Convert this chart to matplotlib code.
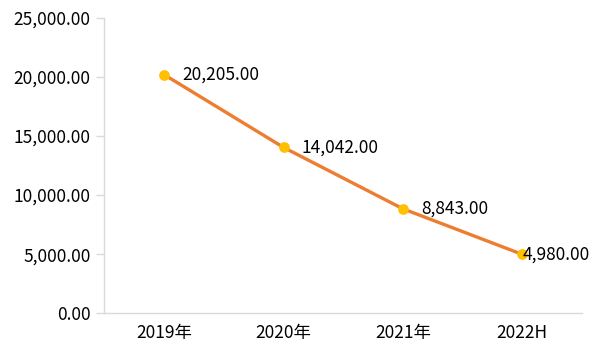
import matplotlib
matplotlib.use("Agg")
import matplotlib.pyplot as plt
from matplotlib.ticker import FuncFormatter

plt.rcParams['font.family'] = ['Noto Sans CJK SC', 'DejaVu Sans']

# data
categories = ['2019年', '2020年', '2021年', '2022H']
values = [20205, 14042, 8843, 4980]
y_ticks = [0, 5000, 10000, 15000, 20000, 25000]

fig = plt.figure(figsize=(6, 3.6), dpi=100)
ax = fig.add_axes([0.174, 0.13, 0.796, 0.82])

x = range(len(categories))
ax.plot(x, values, color='#ED7D31', linewidth=2.4, zorder=2)
ax.scatter(x, values, s=45, color='#FFC000', zorder=3)

for xi, v in zip(x, values):
    # last label gets pushed in so it fits inside the chart area
    dx = 13 if xi < len(categories) - 1 else 0
    ax.annotate('{:,.2f}'.format(v), (xi, v), xytext=(dx, 0),
                textcoords='offset points', ha='left', va='center',
                fontsize=12.5, color='black')

ax.set_xlim(-0.5, len(categories) - 0.5)
ax.set_ylim(0, 25000)
ax.set_yticks(y_ticks)
ax.yaxis.set_major_formatter(FuncFormatter(lambda v, p: '{:,.2f}'.format(v)))
ax.set_xticks(list(x))
ax.set_xticklabels(categories)

for s in ['top', 'right']:
    ax.spines[s].set_visible(False)
for s in ['left', 'bottom']:
    ax.spines[s].set_color('#D9D9D9')
    ax.spines[s].set_linewidth(1)

ax.tick_params(axis='y', length=6, width=1, color='#D9D9D9', labelsize=12.5, pad=4)
ax.tick_params(axis='x', length=0, labelsize=12.5, pad=8)

fig.savefig('out.png', dpi=100)
